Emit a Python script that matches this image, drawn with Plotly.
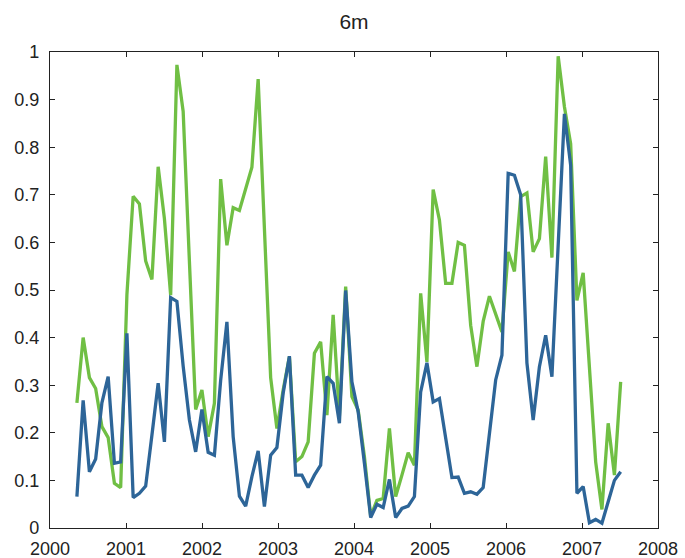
import plotly.graph_objects as go

# time grid (decimal years): first sample and spacing between samples
start_year = 2000.354
step_year = 0.08224

green_vals = [0.263, 0.400, 0.316, 0.293, 0.213, 0.190, 0.094, 0.085, 0.49, 0.697,
              0.681, 0.561, 0.522, 0.759, 0.650, 0.489, 0.973, 0.875, 0.56, 0.249,
              0.290, 0.192, 0.262, 0.733, 0.594, 0.673, 0.667, 0.710, 0.758, 0.943,
              0.63, 0.316, 0.209, 0.290, 0.360, 0.139, 0.150, 0.181, 0.367, 0.391,
              0.237, 0.448, 0.235, 0.507, 0.276, 0.248, 0.15, 0.025, 0.058, 0.062,
              0.209, 0.066, 0.111, 0.158, 0.132, 0.493, 0.349, 0.711, 0.647, 0.514,
              0.514, 0.600, 0.594, 0.426, 0.339, 0.434, 0.487, 0.45, 0.412, 0.580,
              0.539, 0.696, 0.704, 0.580, 0.608, 0.780, 0.568, 0.991, 0.885, 0.807,
              0.478, 0.536, 0.325, 0.139, 0.039, 0.220, 0.111, 0.307]

blue_vals = [0.066, 0.268, 0.118, 0.145, 0.263, 0.318, 0.136, 0.139, 0.409, 0.064,
             0.073, 0.088, 0.195, 0.304, 0.181, 0.484, 0.476, 0.34, 0.227, 0.160,
             0.249, 0.159, 0.153, 0.31, 0.433, 0.192, 0.067, 0.046, 0.108, 0.162,
             0.045, 0.153, 0.169, 0.283, 0.361, 0.111, 0.111, 0.085, 0.111, 0.132,
             0.318, 0.304, 0.220, 0.499, 0.307, 0.244, 0.136, 0.022, 0.050, 0.043,
             0.102, 0.022, 0.041, 0.046, 0.066, 0.286, 0.347, 0.265, 0.272, 0.19,
             0.106, 0.107, 0.073, 0.076, 0.071, 0.085, 0.206, 0.311, 0.363, 0.745,
             0.741, 0.700, 0.347, 0.227, 0.339, 0.405, 0.318, 0.59, 0.870, 0.762,
             0.073, 0.087, 0.011, 0.018, 0.010, 0.055, 0.100, 0.118]

x_years = [start_year + i * step_year for i in range(len(green_vals))]

x_ticks = list(range(2000, 2009))
y_ticks = [0, 0.1, 0.2, 0.3, 0.4, 0.5, 0.6, 0.7, 0.8, 0.9, 1]
y_labels = ["0", "0.1", "0.2", "0.3", "0.4", "0.5", "0.6", "0.7", "0.8", "0.9", "1"]

GREEN = "#70BF44"
BLUE = "#2D6598"
FONT = "Liberation Sans, Arial, sans-serif"

fig = go.Figure()
fig.add_trace(go.Scatter(x=x_years, y=green_vals, mode="lines",
                         line=dict(color=GREEN, width=3.3), showlegend=False))
fig.add_trace(go.Scatter(x=x_years, y=blue_vals, mode="lines",
                         line=dict(color=BLUE, width=3.3), showlegend=False))

axis_common = dict(showgrid=False, zeroline=False, showline=True, linecolor="#222",
                   linewidth=1.3, mirror="ticks", ticks="inside", ticklen=5,
                   tickcolor="#222", tickwidth=1, automargin=False,
                   tickfont=dict(family=FONT, size=18, color="#222"))

fig.update_xaxes(range=[2000, 2008], tickmode="array", tickvals=x_ticks,
                 ticktext=[str(t) for t in x_ticks], ticklabelstandoff=4, **axis_common)
fig.update_yaxes(range=[0, 1], tickmode="array", tickvals=y_ticks,
                 ticktext=y_labels, ticklabelstandoff=6, **axis_common)

fig.update_layout(
    width=685, height=558,
    margin=dict(l=50, r=27, t=52, b=30, autoexpand=False),
    plot_bgcolor="white", paper_bgcolor="white",
    title=dict(text="6m", x=0.5, xref="paper", y=1 - 22 / 558, yanchor="middle",
               font=dict(family=FONT, size=21, color="#222")),
)

fig.write_html("out.html")
